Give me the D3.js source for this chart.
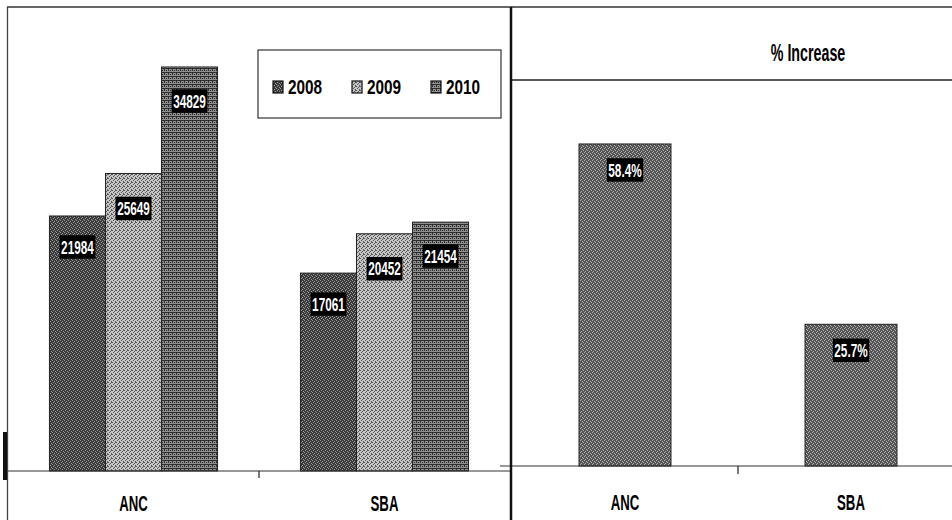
<!DOCTYPE html>
<html>
<head>
<meta charset="utf-8">
<script src="https://cdn.jsdelivr.net/npm/d3@7"></script>
<style>
  html, body { margin: 0; padding: 0; background: #fff; }
  svg { display: block; }
  text { font-family: "Liberation Sans", Arial, sans-serif; font-weight: bold; }
</style>
</head>
<body>
<svg id="chart" width="952" height="520"></svg>
<script>
// Categories and series
const categories = ["ANC", "SBA"];
const years = ["2008", "2009", "2010"];
const values2008 = [21984, 17061];
const values2009 = [25649, 20452];
const values2010 = [34829, 21454];
const increaseValues = [58.4, 25.7];
const increaseLabels = ["58.4%", "25.7%"];
const increaseTitle = "% Increase";

const seriesByYear = { "2008": values2008, "2009": values2009, "2010": values2010 };

const svg = d3.select("#chart");
const W = 952, H = 520;

// Textured fills, one per series
const defs = svg.append("defs");
function dither(id, base, dot, cells) {
  const p = defs.append("pattern").attr("id", id).attr("patternUnits", "userSpaceOnUse")
    .attr("width", 4).attr("height", 4);
  p.append("rect").attr("width", 4).attr("height", 4).attr("fill", base);
  cells.forEach(([x, y]) => p.append("rect").attr("x", x).attr("y", y).attr("width", 1).attr("height", 1).attr("fill", dot));
}
dither("fill2008", "#3a3a3a", "#9a9a9a", [[0, 0], [2, 1], [1, 2], [3, 3]]);
dither("fill2009", "#c4c4c4", "#5a5a5a", [[1, 0], [3, 1], [0, 2], [2, 3], [3, 2]]);
dither("fill2010", "#8e8e8e", "#2e2e2e", [[0, 0], [1, 0], [2, 0], [3, 0], [0, 1], [0, 2], [2, 2]]);
dither("fillInc", "#555555", "#b0b0b0", [[0, 0], [2, 1], [1, 3], [3, 2]]);
const fills = { "2008": "url(#fill2008)", "2009": "url(#fill2009)", "2010": "url(#fill2010)" };

// Condensed bold text helper (sx = horizontal squeeze)
function label(g, x, y, str, size, sx, color, anchor) {
  return g.append("text")
    .attr("transform", `translate(${x},${y}) scale(${sx},1)`)
    .attr("text-anchor", anchor || "middle")
    .attr("dominant-baseline", "central")
    .attr("font-size", size)
    .attr("fill", color || "#000")
    .text(str);
}

// Value tag: white text on a black box
function tag(g, x, y, str) {
  const sx = 0.62;
  const t = label(g, x, y, str, 19, sx, "#fff");
  const bb = t.node().getBBox();
  const w = bb.width * sx + 3, h = bb.height + 3;
  g.insert("rect", () => t.node())
    .attr("x", x - w / 2).attr("y", y - h / 2).attr("width", w).attr("height", h)
    .attr("fill", "#000");
}

// ---------- Left panel: counts per year ----------
const L = { left: 8, right: 510, top: 7, bottom: 471 };
const x0 = d3.scaleBand().domain(categories).range([L.left, L.right]).padding(0);
const x1 = d3.scaleBand().domain(years).range([0, x0.bandwidth()]).paddingInner(0).paddingOuter(0.74);
const yL = d3.scaleLinear().domain([0, 40000]).range([L.bottom, L.top]);

const left = svg.append("g");
years.forEach(yr => {
  const vals = seriesByYear[yr];
  left.selectAll(null).data(categories).enter().append("rect")
    .attr("x", (c) => x0(c) + x1(yr))
    .attr("y", (c, i) => yL(vals[i]))
    .attr("width", x1.bandwidth())
    .attr("height", (c, i) => yL(0) - yL(vals[i]))
    .attr("fill", fills[yr])
    .attr("stroke", "#222").attr("stroke-width", 1);
});
const tagGap = { "2008": 31, "2009": 35, "2010": 34 };
years.forEach(yr => {
  const vals = seriesByYear[yr];
  categories.forEach((c, i) => {
    tag(left, x0(c) + x1(yr) + x1.bandwidth() / 2, yL(vals[i]) + tagGap[yr], String(vals[i]));
  });
});

// Left baseline, category ticks and labels
left.append("line").attr("x1", L.left).attr("x2", L.right).attr("y1", L.bottom).attr("y2", L.bottom)
  .attr("stroke", "#333").attr("stroke-width", 1.2);
categories.slice(0, -1).forEach(c => {
  const bx = x0(c) + x0.bandwidth();
  left.append("line").attr("x1", bx).attr("x2", bx).attr("y1", L.bottom).attr("y2", L.bottom + 7)
    .attr("stroke", "#222").attr("stroke-width", 1.2);
});
categories.forEach(c => label(left, x0(c) + x0.bandwidth() / 2, 504, c, 22, 0.6));

// Legend
const leg = left.append("g");
leg.append("rect").attr("x", 258).attr("y", 50).attr("width", 243).attr("height", 68)
  .attr("fill", "#fff").attr("stroke", "#333").attr("stroke-width", 1.2);
const legX = d3.scalePoint().domain(years).range([273, 431]);
years.forEach(yr => {
  leg.append("rect").attr("x", legX(yr)).attr("y", 81).attr("width", 10).attr("height", 12)
    .attr("fill", fills[yr]).attr("stroke", "#111").attr("stroke-width", 1.2);
  label(leg, legX(yr) + 15, 87, yr, 21, 0.73, "#000", "start");
});

// ---------- Right panel: percentage increase ----------
const R = { left: 512, right: 964, top: 80, bottom: 466 };
const xR = d3.scaleBand().domain(categories).range([R.left, R.right]).paddingInner(0.593).paddingOuter(0.2965);
const yR = d3.scaleLinear().domain([0, 70]).range([R.bottom, R.top]);

const right = svg.append("g");
right.selectAll(null).data(categories).enter().append("rect")
  .attr("x", c => xR(c))
  .attr("y", (c, i) => yR(increaseValues[i]))
  .attr("width", xR.bandwidth())
  .attr("height", (c, i) => yR(0) - yR(increaseValues[i]))
  .attr("fill", "url(#fillInc)")
  .attr("stroke", "#222").attr("stroke-width", 1);
categories.forEach((c, i) => {
  tag(right, xR(c) + xR.bandwidth() / 2, yR(increaseValues[i]) + 26, increaseLabels[i]);
});

right.append("line").attr("x1", 500).attr("x2", W).attr("y1", R.bottom).attr("y2", R.bottom)
  .attr("stroke", "#333").attr("stroke-width", 1.2);
const rStep = xR.step();
categories.slice(0, -1).forEach(c => {
  const bx = xR(c) + xR.bandwidth() + (rStep - xR.bandwidth()) / 2;
  right.append("line").attr("x1", bx).attr("x2", bx).attr("y1", R.bottom).attr("y2", R.bottom + 8)
    .attr("stroke", "#222").attr("stroke-width", 1.2);
});
categories.forEach(c => label(right, xR(c) + xR.bandwidth() / 2, 503, c, 22, 0.6));

// Title strip
right.append("line").attr("x1", 511).attr("x2", W).attr("y1", R.top).attr("y2", R.top)
  .attr("stroke", "#222").attr("stroke-width", 1.5);
label(right, 808, 53, increaseTitle, 23, 0.62);

// ---------- Frames ----------
const frame = svg.append("g");
frame.append("line").attr("x1", 7).attr("x2", W).attr("y1", 7).attr("y2", 7)
  .attr("stroke", "#333").attr("stroke-width", 1.5);
frame.append("line").attr("x1", 7.5).attr("x2", 7.5).attr("y1", 7).attr("y2", H)
  .attr("stroke", "#444").attr("stroke-width", 1.3);
frame.append("rect").attr("x", 3).attr("y", 432).attr("width", 4).attr("height", 48).attr("fill", "#111");
frame.append("line").attr("x1", 511).attr("x2", 511).attr("y1", 7).attr("y2", H)
  .attr("stroke", "#111").attr("stroke-width", 2.5);
</script>
</body>
</html>
